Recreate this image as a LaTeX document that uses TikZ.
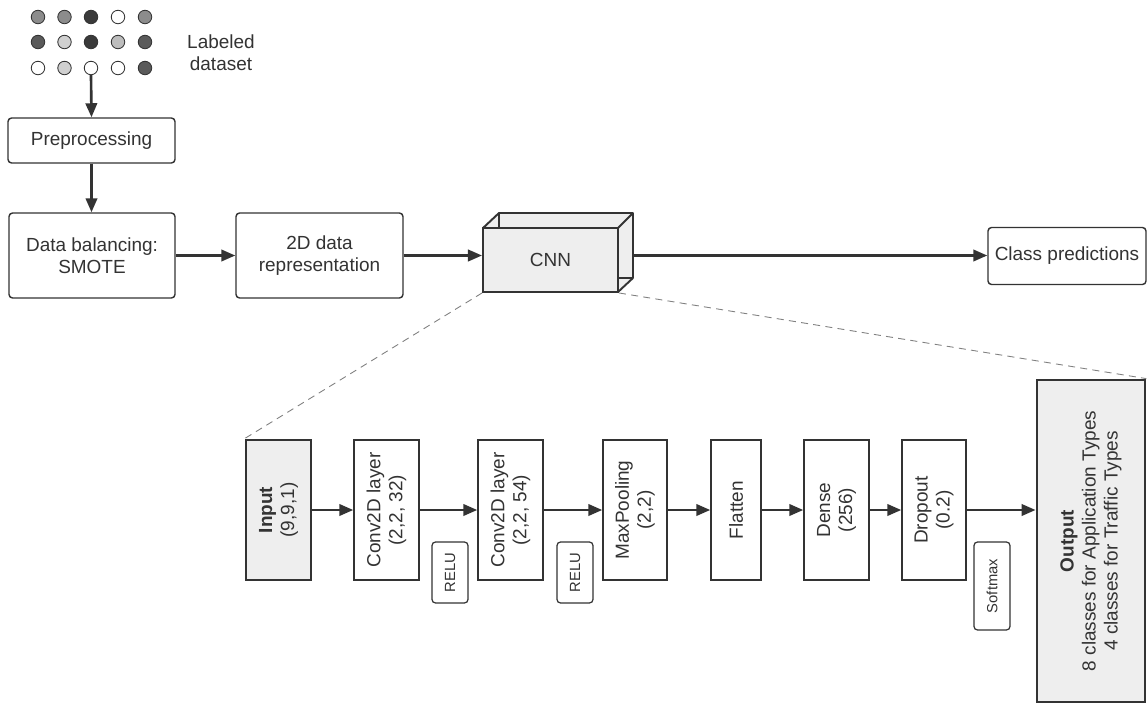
\documentclass[tikz,border=0pt]{standalone}
\usepackage{fontspec}
\setmainfont{Liberation Sans}
\usetikzlibrary{arrows.meta}
\definecolor{linie}{HTML}{333333}
\definecolor{hell}{HTML}{EEEEEE}
\definecolor{mittel}{HTML}{8C8C8C}
\definecolor{dunkel}{HTML}{3A3A3A}
\definecolor{dgrau}{HTML}{5A5A5A}
\definecolor{lgrau}{HTML}{D0D0D0}
\definecolor{sgrau}{HTML}{BDBDBD}

\begin{document}
\begin{tikzpicture}[x=0.02cm, y=-0.02cm, color = {linie},
    kasten/.style = {draw, rounded corners=2pt, line width=0.8pt, align=center,
        font=\fontsize{10.8}{12.5}\selectfont, inner sep=1pt},
    schicht/.style = {draw, line width=0.8pt, rotate=90, align=center, inner sep=1pt,
        minimum width=2.8cm, minimum height=1.3cm, font=\fontsize{10.8}{12.5}\selectfont},
    klein/.style = {draw, rounded corners=2pt, line width=0.7pt, rotate=90, inner sep=1pt,
        minimum height=0.72cm, font=\fontsize{8.4}{10}\selectfont},
    punkt/.style = {draw, circle, line width=0.5pt, minimum size=0.27cm, inner sep=0pt},
    pfeil/.style = {line width=1.5pt, -{Triangle[length=8pt,width=6.5pt]}},
    strich/.style = {line width=0.5pt, dash pattern=on 4pt off 3pt, gray}]
    \useasboundingbox[fill=white] (0,0) rectangle (1147,703);

    % dataset
    \foreach \x/\y/\f [count=\n] in {38/17/mittel, 64.5/17/mittel, 91/17/dunkel, 118/17/white, 145/17/mittel,
        38/42/dgrau, 64.5/42/lgrau, 91/42/dunkel, 118/42/sgrau, 145/42/dgrau,
        38/68/white, 64.5/68/lgrau, 91/68/white, 118/68/white, 145/68/dgrau}
        \node[punkt, fill=\f] (p\n) at (\x,\y) {};
    \node[align=center, font=\fontsize{10.8}{12.5}\selectfont] (daten) at (221,53) {Labeled\\dataset};

    \node[kasten, minimum width=3.34cm, minimum height=0.9cm] (prep) at (91.5,140.5) {Preprocessing};
    \node[kasten, minimum width=3.32cm, minimum height=1.7cm] (bal) at (92,255.5) {Data balancing:\\SMOTE};
    \node[kasten, minimum width=3.34cm, minimum height=1.7cm] (rep) at (319.5,255.5) {2D data\\representation};
    \node[kasten, minimum width=3.16cm, minimum height=1.14cm] (klasse) at (1067,256) {Class predictions};

    % CNN block
    \fill[hell] (483,228) -- (499,213) -- (633,213) -- (633,278) -- (618,292) -- (483,292) -- cycle;
    \draw[line width=1.1pt, line join=round] (499,213) rectangle (633,278);
    \draw[line width=1.1pt] (483,228) -- (499,213) (618,228) -- (633,213) (618,292) -- (633,278);
    \node[draw, fill=hell, line width=1.1pt, minimum width=2.7cm, minimum height=1.28cm,
        font=\fontsize{10.8}{12.5}\selectfont] (cnn) at (550.5,260) {CNN};
    \coordinate (hinten) at (633,255.5);

    \draw[pfeil] (p13.south) -- (prep.north);
    \draw[pfeil] (prep.south) -- (prep.south |- bal.north);
    \draw[pfeil] (bal.east) -- (rep.west);
    \draw[pfeil] (rep.east) -- (rep.east -| cnn.west);
    \draw[pfeil] (hinten) -- (hinten -| klasse.west);

    % layers
    \node[schicht, fill=hell, line width=1.6pt] (inp) at (278.5,510) {\textbf{Input}\\(9,9,1)};
    \node[schicht] (c1) at (386.5,510) {Conv2D layer\\(2,2, 32)};
    \node[schicht] (c2) at (510.5,510) {Conv2D layer\\(2,2, 54)};
    \node[schicht, minimum height=1.28cm] (mp) at (635,510) {MaxPooling\\(2,2)};
    \node[schicht, minimum height=1.0cm] (fl) at (736,510) {Flatten};
    \node[schicht] (de) at (836.5,510) {Dense\\(256)};
    \node[schicht, minimum height=1.28cm] (dr) at (934,510) {Dropout\\(0.2)};
    \node[schicht, fill=hell, line width=1.6pt, minimum width=6.44cm, minimum height=2.16cm] (out) at (1091,541)
        {\textbf{Output}\\8 classes for Application Types\\4 classes for Traffic Types};

    \node[klein, minimum width=1.22cm] (relu1) at (450,572.5) {RELU};
    \node[klein, minimum width=1.22cm] (relu2) at (575,572.5) {RELU};
    \node[klein, minimum width=1.76cm] (smax) at (992,586) {Softmax};

    \draw[pfeil] (inp.south) -- (c1.north);
    \draw[pfeil] (c1.south) -- (c2.north);
    \draw[pfeil] (c2.south) -- (mp.north);
    \draw[pfeil] (mp.south) -- (fl.north);
    \draw[pfeil] (fl.south) -- (de.north);
    \draw[pfeil] (de.south) -- (dr.north);
    \draw[pfeil] (dr.south) -- (dr.south -| out.north);

    \draw[strich] (cnn.south west) -- (inp.north east);
    \draw[strich] (cnn.south east) -- (out.south east);
\end{tikzpicture}
\end{document}
